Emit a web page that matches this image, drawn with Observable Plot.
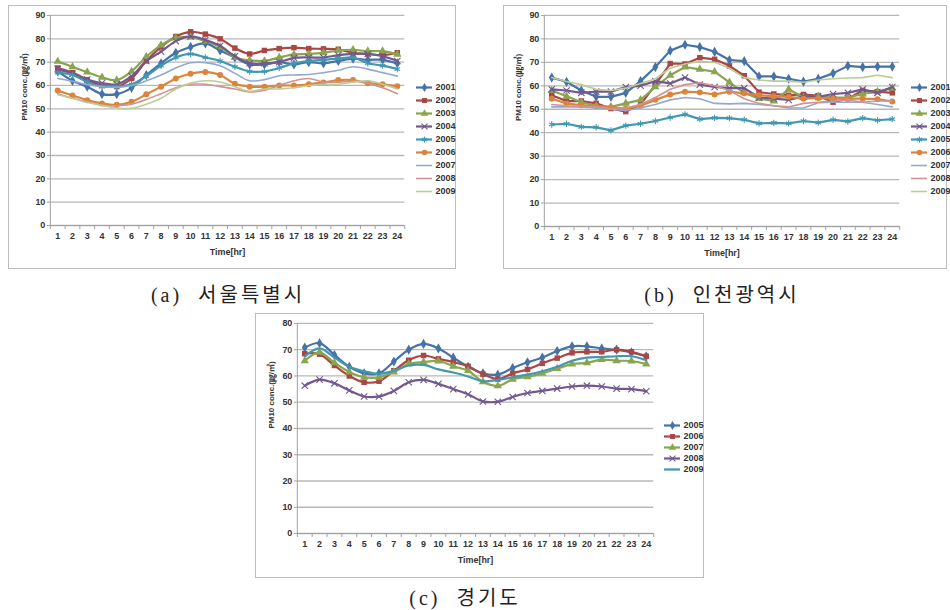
<!DOCTYPE html>
<html>
<head>
<meta charset="utf-8">
<script src="https://cdn.jsdelivr.net/npm/d3@7"></script>
<script src="https://cdn.jsdelivr.net/npm/@observablehq/plot@0.6"></script>
<style>
  body { margin:0; background:#fff; width:950px; height:610px; position:relative; overflow:hidden; font-family:"Liberation Sans", Arial, sans-serif; }
  .box { position:absolute; border:1px solid #bdbdbd; background:#fff; box-sizing:border-box; }
  .box svg { position:absolute; left:0; top:0; }
  .cap { position:absolute; font-family:"Liberation Serif", "Noto Sans CJK KR", serif; font-size:20px; letter-spacing:3px; color:#222; white-space:pre; transform:translate(-50%,-50%); }
</style>
</head>
<body>
<script>
// ---------- data ----------
const hours = [1,2,3,4,5,6,7,8,9,10,11,12,13,14,15,16,17,18,19,20,21,22,23,24];
const yTicks90 = [0,10,20,30,40,50,60,70,80,90];
const yTicks80 = [0,10,20,30,40,50,60,70,80];

// (a) Seoul
const seoulYears = ["2001","2002","2003","2004","2005","2006","2007","2008","2009"];
const seoul2001 = [66,62,59.5,56.3,56.3,59,64.5,69.5,74,76.5,78,75,72,69,69,70,69,70,69.5,70.5,71.5,71,71,69.5];
const seoul2002 = [67.5,65.5,62.5,60,59.5,63,70.5,76.5,81,83,82,80,76,73.5,75,75.8,76.2,75.8,75.7,75.5,74,73.5,73,74];
const seoul2003 = [70.3,68,65.7,63.5,62.3,66,72.3,77.3,80.3,80.7,79,76.5,72,70.8,70.5,72,73.3,73.5,74,75,75.3,74.7,74.7,73.3];
const seoul2004 = [67,65,62.5,61,60.5,64,70.5,74.5,79,81,79.5,77,72.5,69.5,69.5,70,71.8,72,72,73,73.5,73.5,72.5,70.5];
const seoul2005 = [65.5,64.5,61.5,59.5,59.5,60.5,64,68.5,72,73.5,72,70.5,68,66,66,67.5,69.5,70.5,71,71.5,72,69.5,68.5,67];
const seoul2006 = [57.8,55.7,53.7,52.3,51.7,53,56.2,59.5,63,65,65.8,64.5,60.7,59.5,59.5,60,60,60.5,61.3,62.3,62.3,61,60.5,59.7];
const seoul2007 = [63,61.8,60.3,59.5,59.2,60,62,64.5,67.5,69.7,69.8,68.5,65.2,62,62.5,64.2,64.5,64.7,65.5,66.5,68,67,65.5,64];
const seoul2008 = [56.5,54.5,53,51.5,51.3,52,54,56.5,59,60.5,60.5,59.5,58.5,57.2,58,60,62,63,61.5,61.5,61.8,61,59,56.5];
const seoul2009 = [56,54.5,52.7,51.5,50.3,50.2,52,54.5,58.5,61,62,61.5,59.5,57.5,58.5,58.5,59,60,60.5,60.5,61.5,62,60.5,58.5];

// (b) Incheon
const incheonYears = ["2001","2002","2003","2004","2005","2006","2007","2008","2009"];
const incheon2001 = [63.5,61.7,58,55.3,55.3,57,62,68,75,77.5,76.5,74.5,71,70.5,64,64,63,61.8,63,65.3,68.5,68,68.2,68.2];
const incheon2002 = [56,53.5,53.5,52.5,50.3,49,52,60.5,69.5,69.3,72,71.3,68.5,64.3,57.3,56.5,56,56.3,55.8,53,54.5,58,57.5,57];
const incheon2003 = [58,55.5,53,51.5,51,52.5,54,59.5,64.5,68,67,66,61.5,57,54.5,53.5,58.5,55,55.5,55,55,56.5,57.5,59];
const incheon2004 = [58.5,58,57,57.5,57.5,59.5,60,62,61,63.5,60.5,59.5,59,59,55,54.5,54,55.5,55.3,56.5,57,58.5,57,59.5];
const incheon2005 = [43.5,43.8,42.5,42.3,41,43,43.8,45,46.5,47.8,45.8,46.3,46.2,45.5,44,44.2,44,45,44.3,45.5,44.8,46.2,45.3,45.8];
const incheon2006 = [54.5,52.5,51.7,51.3,50.8,50.3,51.5,54,56.3,57.5,57.2,56.3,57.5,56.8,56,55.5,55.3,54.5,54.8,54.5,54.5,54.5,54.3,53.3];
const incheon2007 = [51,51,51,50.5,50,49.5,50.5,52,54,55,54.5,52.5,52.3,52.5,52,51.5,50.5,50.5,52.8,53,53,53,52,51];
const incheon2008 = [52,51.5,51.3,51,50.3,50.5,52,55,58.5,60.5,61.3,60,58,54.5,52.5,51.5,51,52.5,53,53.5,54,53,53.5,53.5];
const incheon2009 = [63.5,61.8,60.5,58.5,58,59,61,63,67.5,69.3,70.5,70,67.5,63.5,62.5,62,62,61.5,62.5,63,63.3,63.5,64.5,63.5];

// (c) Gyeonggi
const gyeonggiYears = ["2005","2006","2007","2008","2009"];
const gyeonggi2005 = [70.8,72.5,68,63.5,61,61,65.5,70,72.2,70.5,67,63.5,61,60.5,63,65.2,67,69.5,71.3,71.3,70.5,70,69,67.5];
const gyeonggi2006 = [68.5,68.3,64,60,57.6,58,62,66,67.8,66.5,65.3,63.7,60.7,58.8,61,62.5,64.8,66.8,68.8,69.2,69.2,70,69.2,67.5];
const gyeonggi2007 = [65.8,69,65,61.5,59.5,59.5,61.5,64.5,65.3,65.7,63.7,62,57.8,56.2,58.7,59.7,61,62.8,64.5,65,66.2,65.8,65.7,64.5];
const gyeonggi2008 = [56.3,58.6,57.2,54.5,52.2,52.2,54.3,57.6,58.5,57,55,53,50.3,50.2,52,53.5,54.3,55.2,56,56.3,56,55.2,55,54.2];
const gyeonggi2009 = [67.5,70.5,67,63.5,61.8,60.8,62,64,64.2,62.5,61.3,59.8,58,58.5,59.5,60.5,61.8,63.5,65.8,67,67.2,67.5,67.5,66];

// ---------- styles ----------
const palette = ["#4572A7","#AA4643","#89A54E","#71588F","#4198AF","#DB843D","#93A9CF","#D19392","#B9CD96"];
const symbols = ["diamond","square","triangle","times","asterisk","circle",null,null,null];
const symbolsC = ["diamond","square","triangle","times",null];
const fillSymbols = new Set(["diamond","square","triangle","circle"]);
const fontStyle = {fontFamily:"'Liberation Sans', Arial, sans-serif", fontSize:"9px", fontWeight:"bold", color:"#333", background:"transparent", overflow:"visible"};

function makePanel(o) {
  const box = document.createElement("div");
  box.className = "box";
  Object.assign(box.style, {left:o.left+"px", top:o.top+"px", width:o.width+"px", height:o.height+"px"});
  document.body.appendChild(box);

  const boundaries = hours.map(h => h - 0.5).concat([hours[hours.length-1] + 0.5]);
  const marks = [
    Plot.gridY({ticks:o.yTicks, stroke:"#b8b8b8", strokeOpacity:1, strokeWidth:1.3}),
    Plot.ruleX([boundaries[0]], {stroke:"#a0a0a0"}),
    Plot.ruleY([0], {stroke:"#a0a0a0"}),
    Plot.axisY({ticks:o.yTicks, tickSize:3, tickPadding:2, label:null, stroke:"#a0a0a0"}),
    Plot.axisX({ticks:boundaries, tickSize:4, tickFormat:() => "", label:null, stroke:"#a0a0a0"}),
    Plot.axisX({ticks:hours, tickSize:0, tickPadding:7, label:null}),
    Plot.text(["Time[hr]"], {frameAnchor:"bottom", dy:30, fontSize:9, fontWeight:"bold", fill:"#333"}),
    Plot.text(["PM10 conc.(㎍/㎥)"], {frameAnchor:"left", rotate:-90, dx:o.ylabelDx, fontSize:8, fontWeight:"bold", fill:"#333", fontFamily:"'Liberation Sans', 'Noto Sans CJK KR', sans-serif"})
  ];
  o.years.forEach((yr, i) => {
    const vals = o.series[i];
    const rows = vals.map((v, j) => ({hour:hours[j], v}));
    const col = palette[i];
    const thick = o.thick[i];
    marks.push(Plot.lineY(rows, {x:"hour", y:"v", stroke:col, strokeWidth:thick ? 2.2 : 1.6, curve:o.curve}));
    const sym = o.symbols[i];
    if (sym) {
      if (fillSymbols.has(sym)) {
        marks.push(Plot.dot(rows, {x:"hour", y:"v", symbol:() => sym, fill:col, stroke:"none", r: sym === "circle" ? 3 : 3.1}));
      } else {
        marks.push(Plot.dot(rows, {x:"hour", y:"v", symbol:() => sym, stroke:col, fill:"none", strokeWidth:1.1, r:3}));
      }
    }
  });
  const chart = Plot.plot({
    width:o.width, height:o.height,
    marginLeft:o.mL, marginRight:o.mR, marginTop:o.mT, marginBottom:o.mB,
    x:{type:"linear", domain:[boundaries[0], boundaries[boundaries.length-1]]},
    y:{domain:[0, o.yMax]},
    symbol:{type:"identity"},
    style:fontStyle,
    marks
  });
  box.appendChild(chart);

  // legend
  const lgH = o.legendStep * (o.years.length - 1) + 16;
  const legendRows = o.years.map((yr, i) => ({yr, i}));
  const lgMarks = [
    Plot.ruleY(legendRows, {y:"yr", x1:0, x2:16, stroke:d => palette[d.i], strokeWidth:d => o.thick[d.i] ? 2.2 : 1.6}),
    Plot.text(legendRows, {y:"yr", x:19, text:"yr", textAnchor:"start", fill:"#333"})
  ];
  legendRows.forEach(d => {
    const sym = o.symbols[d.i];
    if (!sym) return;
    if (fillSymbols.has(sym)) lgMarks.push(Plot.dot([d], {y:"yr", x:8, symbol:() => sym, fill:palette[d.i], stroke:"none", r:2.8}));
    else lgMarks.push(Plot.dot([d], {y:"yr", x:8, symbol:() => sym, stroke:palette[d.i], fill:"none", strokeWidth:1.1, r:2.8}));
  });
  const legend = Plot.plot({
    width:40, height:lgH, margin:0,
    x:{type:"linear", domain:[0,40], range:[0,40], axis:null},
    y:{type:"point", domain:o.years, range:[8, lgH - 8], axis:null},
    symbol:{type:"identity"},
    style:fontStyle,
    marks:lgMarks
  });
  legend.style.left = (o.legendX - o.left) + "px";
  legend.style.top = (o.legendY - 8 - o.top) + "px";
  box.appendChild(legend);

  const cap = document.createElement("div");
  cap.className = "cap";
  cap.textContent = o.caption;
  cap.style.left = o.capX + "px";
  cap.style.top = o.capY + "px";
  document.body.appendChild(cap);
}

makePanel({
  left:8, top:5, width:448, height:264, mL:41, mR:51, mT:9, mB:44, ylabelDx:-26,
  yMax:90, yTicks:yTicks90, curve:"catmull-rom",
  years:seoulYears,
  series:[seoul2001,seoul2002,seoul2003,seoul2004,seoul2005,seoul2006,seoul2007,seoul2008,seoul2009],
  symbols:symbols, thick:[1,1,1,1,1,1,0,0,0],
  legendX:415, legendY:78, legendStep:14.9,
  caption:"(a)  서울특별시", capX:228, capY:293
});
makePanel({
  left:503, top:5, width:444, height:264, mL:40, mR:47, mT:9, mB:43, ylabelDx:-26,
  yMax:90, yTicks:yTicks90, curve:"linear",
  years:incheonYears,
  series:[incheon2001,incheon2002,incheon2003,incheon2004,incheon2005,incheon2006,incheon2007,incheon2008,incheon2009],
  symbols:symbols, thick:[1,1,1,1,1,1,0,0,0],
  legendX:910, legendY:78, legendStep:14.9,
  caption:"(b)  인천광역시", capX:722, capY:293
});
makePanel({
  left:255, top:313, width:449, height:265, mL:41, mR:50, mT:9, mB:45, ylabelDx:-26,
  yMax:80, yTicks:yTicks80, curve:"catmull-rom",
  years:gyeonggiYears,
  series:[gyeonggi2005,gyeonggi2006,gyeonggi2007,gyeonggi2008,gyeonggi2009],
  symbols:symbolsC, thick:[1,1,1,1,1],
  legendX:663, legendY:416, legendStep:14.8,
  caption:"(c)  경기도", capX:465, capY:596
});
</script>
</body>
</html>
